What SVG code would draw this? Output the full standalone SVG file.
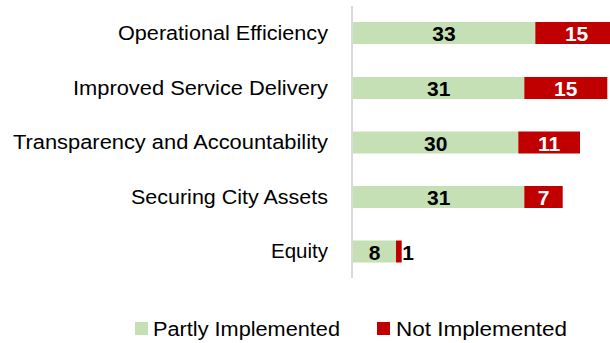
<svg xmlns="http://www.w3.org/2000/svg" width="610" height="343" viewBox="0 0 610 343">
<style>
.cat{font-family:"Liberation Sans",Arial,sans-serif;font-size:20px;fill:#000;text-anchor:end}
.leg{font-family:"Liberation Sans",Arial,sans-serif;font-size:20px;fill:#000}
.num{font-family:"Liberation Sans",Arial,sans-serif;font-size:21px;font-weight:bold;text-anchor:middle}
.nb{fill:#000}
.nw{fill:#fff}
.p{fill:#c5e0b4}
.n{fill:#c00000}
</style>
<rect width="610" height="343" fill="#fff"/>
<g id="axis">
<line x1="352" y1="6" x2="352" y2="278" stroke="#d9d9d9" stroke-width="2"/>
</g>
<g id="operational-efficiency">
<text class="cat" x="328" y="40" textLength="210" lengthAdjust="spacingAndGlyphs">Operational Efficiency</text>
<rect class="p" x="353" y="22" width="182.3" height="22"/>
<rect class="n" x="535.3" y="22" width="82.8" height="22"/>
<text class="num nb" x="444" y="41">33</text>
<text class="num nw" x="576.6" y="41">15</text>
</g>
<g id="improved-service-delivery">
<text class="cat" x="328" y="94.5" textLength="255" lengthAdjust="spacingAndGlyphs">Improved Service Delivery</text>
<rect class="p" x="353" y="77" width="171.3" height="22"/>
<rect class="n" x="524.3" y="77" width="83" height="22"/>
<text class="num nb" x="438.7" y="96">31</text>
<text class="num nw" x="565.8" y="96">15</text>
</g>
<g id="transparency-and-accountability">
<text class="cat" x="328" y="149" textLength="315" lengthAdjust="spacingAndGlyphs">Transparency and Accountability</text>
<rect class="p" x="353" y="131.5" width="165.3" height="22"/>
<rect class="n" x="518.3" y="131.5" width="61.7" height="22"/>
<text class="num nb" x="435.7" y="150.5">30</text>
<text class="num nw" x="549" y="150.5">11</text>
</g>
<g id="securing-city-assets">
<text class="cat" x="328" y="203.5" textLength="197" lengthAdjust="spacingAndGlyphs">Securing City Assets</text>
<rect class="p" x="353" y="186" width="171.3" height="22"/>
<rect class="n" x="524.3" y="186" width="38.4" height="22"/>
<text class="num nb" x="438.7" y="205">31</text>
<text class="num nw" x="543.5" y="205">7</text>
</g>
<g id="equity">
<text class="cat" x="328" y="258" textLength="57" lengthAdjust="spacingAndGlyphs">Equity</text>
<rect class="p" x="353" y="240.5" width="43" height="22"/>
<rect class="n" x="396" y="240.5" width="5.7" height="22"/>
<text class="num nb" x="374.5" y="259.5">8</text>
<text class="num nb" x="408" y="259.5">1</text>
</g>
<g id="legend">
<rect class="p" x="135" y="322" width="13" height="13"/>
<text class="leg" x="153" y="336" textLength="187" lengthAdjust="spacingAndGlyphs">Partly Implemented</text>
<rect class="n" x="377" y="322" width="13" height="13"/>
<text class="leg" x="396" y="336" textLength="171" lengthAdjust="spacingAndGlyphs">Not Implemented</text>
</g>
</svg>
